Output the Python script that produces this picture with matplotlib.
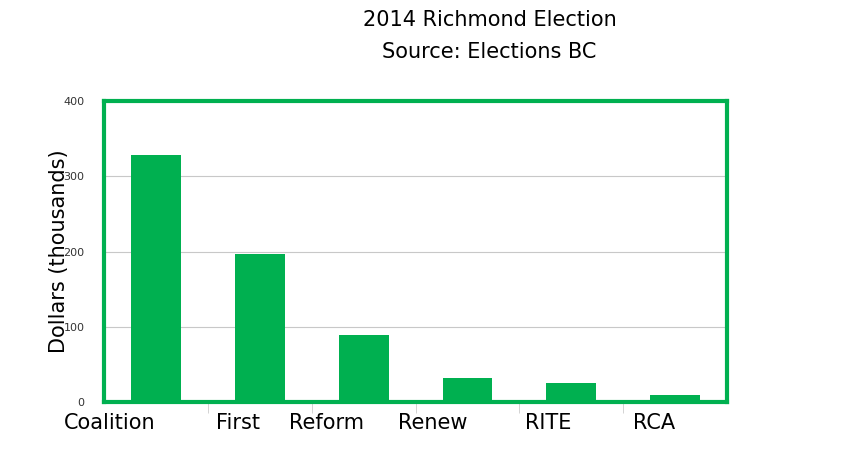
import matplotlib.pyplot as plt
import numpy as np

parties = ["Coalition", "First", "Reform", "Renew", "RITE", "RCA"]
dollars_k = [328, 197, 89, 32, 25, 9]

GREEN = "#00b050"

fig = plt.figure(figsize=(8.56, 4.76), dpi=100)
ax = fig.add_axes([0.1215, 0.1555, 0.728, 0.632])

x = np.arange(len(parties))
ax.bar(x, dollars_k, width=0.48, color=GREEN, zorder=3)

ax.set_xlim(-0.5, len(parties) - 0.5)
ax.set_ylim(0, 400)
ax.set_yticks([0, 100, 200, 300, 400])
ax.tick_params(axis="y", length=0, labelsize=8, colors="#333333", pad=14)
ax.grid(axis="y", color="#c8c8c8", linewidth=0.8, zorder=0)

ax.set_xticks(x)
ax.set_xticklabels(parties, fontsize=15, ha="right")
ax.tick_params(axis="x", length=0, pad=8)
ax.set_xticks(x[1:] - 0.5, minor=True)
ax.tick_params(axis="x", which="minor", length=8, color="#cccccc")

for s in ax.spines.values():
    s.set_color(GREEN)
    s.set_linewidth(3)

ax.set_ylabel("Dollars (thousands)", fontsize=15, labelpad=-4)
fig.text(0.572, 0.957, "2014 Richmond Election", ha="center", va="center", fontsize=15)
fig.text(0.572, 0.891, "Source: Elections BC", ha="center", va="center", fontsize=15)

fig.savefig("out.png", dpi=100)
